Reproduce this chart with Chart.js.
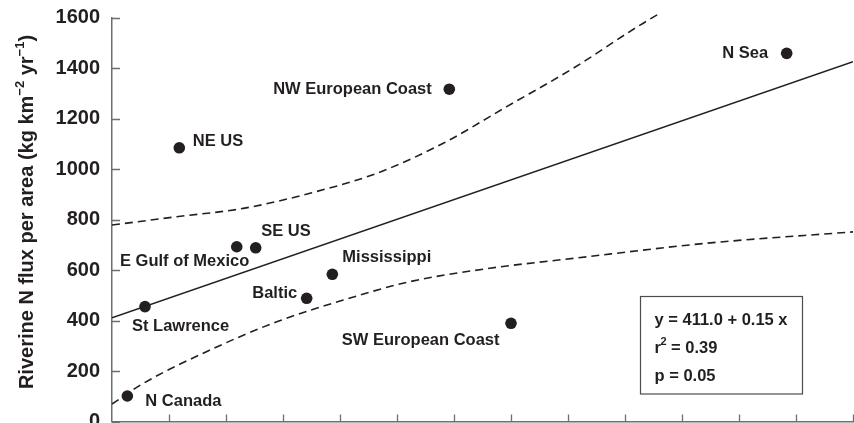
<!DOCTYPE html>
<html>
<head>
<meta charset="utf-8">
<script src="https://cdn.jsdelivr.net/npm/chart.js@4.4.1/dist/chart.umd.min.js"></script>
<style>
  html, body { margin: 0; padding: 0; background: #ffffff; }
  #wrap { width: 854px; height: 423px; }
</style>
</head>
<body>
<div id="wrap"><canvas id="chart" width="854" height="423"></canvas></div>
<script>
// Riverine N flux per area against N input, by region
const regions = ['N Canada', 'St Lawrence', 'NE US', 'E Gulf of Mexico', 'SE US',
                 'Baltic', 'Mississippi', 'NW European Coast', 'SW European Coast', 'N Sea'];
const nInput = [140, 301, 614, 1138, 1311, 1776, 2010, 3077, 3640, 6155];
const nFlux  = [101, 455, 1084, 692, 688, 488, 583, 1316, 389, 1458];

// Fitted regression and its statistics
const fitIntercept = 411.0;
const fitSlope = 0.15;
const rSquared = 0.39;
const pValue = 0.05;

// Confidence band of the fit
const upperBandX = [0, 590, 1198, 1806, 2415, 3022, 3601, 4208, 4817, 4999];
const upperBandY = [778, 811, 844, 904, 983, 1102, 1247, 1399, 1570, 1617];
const lowerBandX = [0, 286, 894, 1503, 2110, 2719, 3448, 4208, 5425, 6760];
const lowerBandY = [69, 151, 283, 395, 481, 554, 607, 646, 706, 751];

// Axis ranges and ticks
const yTickLabels = [0, 200, 400, 600, 800, 1000, 1200, 1400, 1600];
const xMax = 6760;
const xStep = 520;

// ---- styling ----
const INK = '#231f20';
const AXIS = '#6d6e71';
const FONT = '"Liberation Sans", Arial, Helvetica, sans-serif';

// Where each region's name sits relative to its dot
const labelPlacement = {
  'N Canada':          { dx: 18,    dy: 5,     align: 'left'  },
  'St Lawrence':       { dx: -13,   dy: 19.5,  align: 'left'  },
  'NE US':             { dx: 13.5,  dy: -6.5,  align: 'left'  },
  'E Gulf of Mexico':  { dx: 12.5,  dy: 14.5,  align: 'right' },
  'SE US':             { dx: 5.5,   dy: -16.5, align: 'left'  },
  'Baltic':            { dx: -9.5,  dy: -5,    align: 'right' },
  'Mississippi':       { dx: 10,    dy: -17,   align: 'left'  },
  'NW European Coast': { dx: -17.5, dy: 0,     align: 'right' },
  'SW European Coast': { dx: -11.5, dy: 17.5,  align: 'right' },
  'N Sea':             { dx: -18.5, dy: 0,     align: 'right' }
};

const toPoints = (xs, ys) => xs.map((x, i) => ({ x: x, y: ys[i] }));

const fitLine = [
  { x: 0, y: fitIntercept },
  { x: xMax, y: fitIntercept + fitSlope * xMax }
];

// Draws inward tick marks, point names, the stats box and the y-axis title
const decorations = {
  id: 'decorations',
  afterDatasetsDraw(chart) {
    const ctx = chart.ctx;
    const xs = chart.scales.x;
    const ys = chart.scales.y;
    const area = chart.chartArea;
    ctx.save();

    // inward tick marks
    ctx.strokeStyle = AXIS;
    ctx.lineWidth = 1.3;
    ctx.beginPath();
    yTickLabels.forEach(v => {
      const py = Math.round(ys.getPixelForValue(v)) + 0.5;
      ctx.moveTo(area.left, py);
      ctx.lineTo(area.left + 8, py);
    });
    for (let v = xStep; v <= xMax; v += xStep) {
      const px = Math.round(xs.getPixelForValue(v)) + 0.5;
      ctx.moveTo(px, area.bottom);
      ctx.lineTo(px, area.bottom - 7);
    }
    ctx.stroke();

    // region names
    ctx.fillStyle = INK;
    ctx.font = 'bold 16.5px ' + FONT;
    ctx.textBaseline = 'middle';
    regions.forEach((name, i) => {
      const p = labelPlacement[name];
      const px = xs.getPixelForValue(nInput[i]);
      const py = ys.getPixelForValue(nFlux[i]);
      ctx.textAlign = p.align;
      ctx.fillText(name, px + p.dx, py + p.dy);
    });

    // statistics box
    const bx = 640.5, by = 296.5, bw = 162, bh = 97.5;
    ctx.strokeStyle = '#4d4d4f';
    ctx.lineWidth = 1.2;
    ctx.strokeRect(bx, by, bw, bh);
    ctx.textAlign = 'left';
    ctx.font = 'bold 16.5px ' + FONT;
    const tx = bx + 14;
    ctx.fillText('y = ' + fitIntercept.toFixed(1) + ' + ' + fitSlope.toFixed(2) + ' x', tx, by + 23.5);
    ctx.fillText('r', tx, by + 52);
    const rw = ctx.measureText('r').width;
    ctx.font = 'bold 11px ' + FONT;
    ctx.fillText('2', tx + rw - 0.5, by + 45);
    const sw = ctx.measureText('2').width;
    ctx.font = 'bold 16.5px ' + FONT;
    ctx.fillText(' = ' + rSquared.toFixed(2), tx + rw - 0.5 + sw, by + 52);
    ctx.fillText('p = ' + pValue.toFixed(2), tx, by + 80);

    // y-axis title with superscripts
    const parts = [
      { t: 'Riverine N flux per area (kg km', sup: false },
      { t: '\u22122', sup: true },
      { t: ' yr', sup: false },
      { t: '\u22121', sup: true },
      { t: ')', sup: false }
    ];
    const mainFont = 'bold 20px ' + FONT;
    const supFont = 'bold 13px ' + FONT;
    let total = 0;
    parts.forEach(s => {
      ctx.font = s.sup ? supFont : mainFont;
      s.w = ctx.measureText(s.t).width;
      total += s.w;
    });
    ctx.translate(33, 212);
    ctx.rotate(-Math.PI / 2);
    ctx.textBaseline = 'alphabetic';
    ctx.textAlign = 'left';
    let cx = -total / 2;
    parts.forEach(s => {
      ctx.font = s.sup ? supFont : mainFont;
      ctx.fillText(s.t, cx, s.sup ? -9 : 0);
      cx += s.w;
    });

    ctx.restore();
  }
};

new Chart(document.getElementById('chart'), {
  type: 'scatter',
  data: {
    datasets: [
      {
        type: 'line',
        data: fitLine,
        borderColor: INK,
        borderWidth: 1.6,
        pointRadius: 0,
        fill: false
      },
      {
        type: 'line',
        data: toPoints(upperBandX, upperBandY),
        borderColor: INK,
        borderWidth: 1.6,
        borderDash: [8, 5],
        cubicInterpolationMode: 'monotone',
        pointRadius: 0,
        fill: false,
        clip: false
      },
      {
        type: 'line',
        data: toPoints(lowerBandX, lowerBandY),
        borderColor: INK,
        borderWidth: 1.6,
        borderDash: [8, 5],
        cubicInterpolationMode: 'monotone',
        pointRadius: 0,
        fill: false
      },
      {
        data: toPoints(nInput, nFlux),
        backgroundColor: INK,
        borderWidth: 0,
        pointRadius: 5.8
      }
    ]
  },
  options: {
    responsive: false,
    animation: false,
    devicePixelRatio: 1,
    layout: { autoPadding: false, padding: { top: 17.5, right: 1, bottom: 1.5, left: 0 } },
    plugins: {
      legend: { display: false },
      tooltip: { enabled: false }
    },
    scales: {
      x: {
        type: 'linear',
        min: 0,
        max: xMax,
        grid: { display: false, drawTicks: false },
        border: { display: true, color: AXIS, width: 1.5 },
        ticks: { display: false, stepSize: xStep },
        afterFit(scale) {
          scale.height = 0;
          scale.paddingLeft = 0;
          scale.paddingRight = 0;
        }
      },
      y: {
        type: 'linear',
        min: 0,
        max: 1600,
        grid: { display: false, drawTicks: false },
        border: { display: true, color: AXIS, width: 1.5 },
        afterBuildTicks(scale) { scale.ticks = yTickLabels.map(v => ({ value: v })); },
        ticks: {
          color: INK,
          padding: 12,
          font: { family: FONT, size: 20, weight: 'bold' },
          callback: v => String(v)
        },
        afterFit(scale) {
          scale.width = 112;
          scale.paddingTop = 0;
          scale.paddingBottom = 0;
        }
      }
    }
  },
  plugins: [decorations]
});
</script>
</body>
</html>
